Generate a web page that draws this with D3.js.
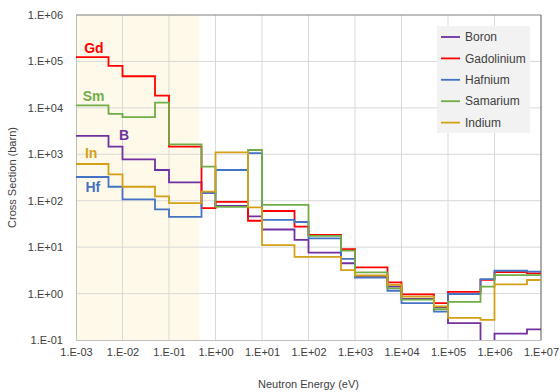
<!DOCTYPE html>
<html>
<head>
<meta charset="utf-8">
<script src="https://cdn.jsdelivr.net/npm/d3@7"></script>
<style>
  html, body { margin: 0; padding: 0; background: #fff; }
  svg { display: block; }
  text { font-family: "Liberation Sans", Arial, sans-serif; }
</style>
</head>
<body>
<svg id="chart" width="560" height="392"></svg>
<script>
// Group boundaries of the energy structure (eV)
const energyEdges = [1e-3, 5e-3, 1e-2, 5e-2, 1e-1, 5e-1, 1, 5, 10, 50, 100, 500,
                     1e3, 5e3, 1e4, 5e4, 1e5, 5e5, 1e6, 5e6, 1e7];

// Group-averaged absorption cross sections (barn), one value per group
const boron      = [2500, 1460, 780, 459, 249, 145, 77, 46, 24, 14.3, 7.6, 4.5,
                    2.35, 1.41, 0.77, 0.51, 0.23, 0.05, 0.137, 0.17];
const gadolinium = [124000, 80000, 48000, 18300, 1460, 69, 94, 37, 60, 27.6, 18.3, 9.1,
                    3.65, 1.75, 0.96, 0.62, 1.09, 1.98, 2.9, 2.73];
const hafnium    = [324, 200, 107, 65, 45, 146, 459, 1060, 38.5, 34.8, 15.5, 5.6,
                    2.2, 1.15, 0.62, 0.41, 0.98, 2.05, 3.1, 2.96];
const samarium   = [11300, 7400, 6300, 13000, 1640, 540, 74, 1237, 81, 81, 17.4, 8.4,
                    2.85, 1.3, 0.74, 0.46, 0.66, 1.41, 2.5, 2.5];
const indium     = [618, 370, 200, 124, 89, 157, 1100, 72, 11.1, 6.2, 6.2, 3.2,
                    2.45, 1.55, 0.86, 0.53, 0.30, 0.27, 1.58, 1.96];

const seriesNames  = ["Boron", "Gadolinium", "Hafnium", "Samarium", "Indium"];
const seriesValues = [boron, gadolinium, hafnium, samarium, indium];
const seriesColors = ["#7030A0", "#FF0000", "#4472C4", "#70AD47", "#D4A017"];

// Element symbols written next to the thermal part of each curve
const symbolLabels = ["B", "Gd", "Hf", "Sm", "In"];
const symbolAnchor = [[0.0084, 2030], [0.0015, 151000], [0.0016, 154], [0.0014, 14000], [0.00156, 830]];

const xTickValues = [1e-3, 1e-2, 1e-1, 1e0, 1e1, 1e2, 1e3, 1e4, 1e5, 1e6, 1e7];
const yTickValues = [1e-1, 1e0, 1e1, 1e2, 1e3, 1e4, 1e5, 1e6];
const thermalRange = [1e-3, 0.45];

const margin = { left: 76, right: 19, top: 15, bottom: 52 };
const W = 560, H = 392;
const svg = d3.select("#chart");

const x = d3.scaleLog().domain([1e-3, 1e7]).range([margin.left, W - margin.right]);
const y = d3.scaleLog().domain([1e-1, 1e6]).range([H - margin.bottom, margin.top]);

const fmt = v => {
  const e = Math.round(Math.log10(v));
  return "1.E" + (e < 0 ? "-" : "+") + String(Math.abs(e)).padStart(2, "0");
};

// thermal band
svg.append("rect")
  .attr("x", x(thermalRange[0])).attr("y", y(1e6))
  .attr("width", x(thermalRange[1]) - x(thermalRange[0]))
  .attr("height", y(1e-1) - y(1e6))
  .attr("fill", "#FFF9EA");

// gridlines
svg.append("g").selectAll("line").data(xTickValues.slice(1, -1)).join("line")
  .attr("x1", d => x(d)).attr("x2", d => x(d))
  .attr("y1", y(1e6)).attr("y2", y(1e-1))
  .attr("stroke", "#D9D9D9").attr("stroke-width", 1);
svg.append("g").selectAll("line").data(yTickValues.slice(1, -1)).join("line")
  .attr("x1", x(1e-3)).attr("x2", x(1e7))
  .attr("y1", d => y(d)).attr("y2", d => y(d))
  .attr("stroke", "#D9D9D9").attr("stroke-width", 1);

// axes
const xAxis = svg.append("g")
  .attr("transform", `translate(0,${y(1e-1)})`)
  .call(d3.axisBottom(x).tickValues(xTickValues).tickFormat(fmt).tickSize(0).tickPadding(8));
const yAxis = svg.append("g")
  .attr("transform", `translate(${x(1e-3)},0)`)
  .call(d3.axisLeft(y).tickValues(yTickValues).tickFormat(fmt).tickSize(0).tickPadding(13));
[xAxis, yAxis].forEach(g => {
  g.select(".domain").attr("stroke", "#BFBFBF");
  g.selectAll("text").attr("font-size", 11).attr("fill", "#404040")
    .style("font-family", '"Liberation Sans", Arial, sans-serif');
});

// top and right frame
svg.append("line").attr("x1", x(1e-3)).attr("x2", x(1e7)).attr("y1", y(1e6)).attr("y2", y(1e6))
  .attr("stroke", "#7F7F7F").attr("stroke-width", 1);
svg.append("line").attr("x1", x(1e7)).attr("x2", x(1e7)).attr("y1", y(1e6)).attr("y2", y(1e-1))
  .attr("stroke", "#595959").attr("stroke-width", 1);

// step curves
svg.append("clipPath").attr("id", "plotClip").append("rect")
  .attr("x", x(1e-3)).attr("y", y(1e6))
  .attr("width", x(1e7) - x(1e-3)).attr("height", y(1e-1) - y(1e6));

const stepLine = d3.line().x(d => x(d[0])).y(d => y(d[1])).curve(d3.curveStepAfter);
const plot = svg.append("g").attr("clip-path", "url(#plotClip)");
seriesValues.forEach((vals, i) => {
  const pts = vals.map((v, k) => [energyEdges[k], v]);
  pts.push([energyEdges[energyEdges.length - 1], vals[vals.length - 1]]);
  plot.append("path").datum(pts)
    .attr("d", stepLine)
    .attr("fill", "none")
    .attr("stroke", seriesColors[i])
    .attr("stroke-width", 1.8);
});

// element symbols
symbolLabels.forEach((s, i) => {
  svg.append("text")
    .attr("x", x(symbolAnchor[i][0])).attr("y", y(symbolAnchor[i][1]))
    .attr("font-size", 14).attr("font-weight", "bold")
    .attr("fill", seriesColors[i])
    .text(s);
});

// legend
const lg = svg.append("g");
lg.append("rect").attr("x", 437).attr("y", 26).attr("width", 93).attr("height", 107).attr("fill", "#F2F2F2");
seriesNames.forEach((n, i) => {
  const yy = 37 + i * 21.4;
  lg.append("line").attr("x1", 441).attr("x2", 460).attr("y1", yy).attr("y2", yy)
    .attr("stroke", seriesColors[i]).attr("stroke-width", 1.8);
  lg.append("text").attr("x", 465).attr("y", yy).attr("dy", "0.35em")
    .attr("font-size", 12).attr("fill", "#404040").text(n);
});

// axis titles
svg.append("text").attr("x", (x(1e-3) + x(1e7)) / 2).attr("y", 388)
  .attr("text-anchor", "middle").attr("font-size", 11).attr("fill", "#404040")
  .text("Neutron Energy (eV)");
svg.append("text").attr("transform", `translate(16,${(y(1e6) + y(1e-1)) / 2}) rotate(-90)`)
  .attr("text-anchor", "middle").attr("font-size", 11).attr("fill", "#404040")
  .text("Cross Section (barn)");
</script>
</body>
</html>
